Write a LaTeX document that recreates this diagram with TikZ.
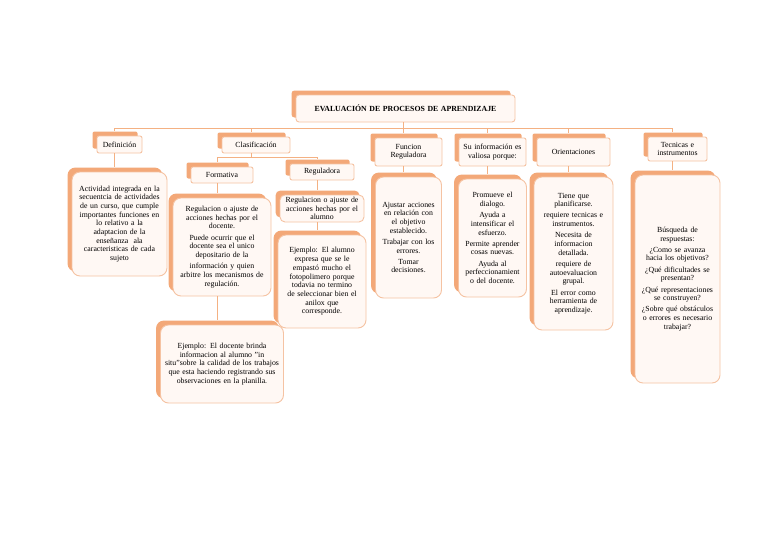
\documentclass[tikz,border=0pt]{standalone}
\usepackage{fontspec}
\setmainfont{Liberation Serif}
\usetikzlibrary{shadows}
\definecolor{shad}{HTML}{F3A878}
\definecolor{bline}{HTML}{F5C3A3}
\definecolor{bfill}{HTML}{FFF8F4}
\definecolor{conn}{HTML}{F4B183}
\tikzset{
 base/.style={draw=bline, line width=0.9pt, fill=bfill, inner sep=0pt, align=center, text=black,
   copy shadow={shadow xshift=-4.5pt, shadow yshift=4.5pt, fill=shad, draw=none}},
 lvone/.style={base, rounded corners=2pt, font=\fontsize{7.8}{8.5}\selectfont},
 lvtwo/.style={base, rounded corners=8pt, font=\fontsize{7.8}{8.7}\selectfont},
 ttl/.style={base, rounded corners=3pt, font=\bfseries\fontsize{7.8}{9}\selectfont},
 sz/.style 2 args={minimum width=#1pt, minimum height=#2pt},
 link/.style={draw=conn, line width=0.8pt},
}
\begin{document}
\begin{tikzpicture}[x=1pt,y=-1pt]
\useasboundingbox[fill=white] (0,0) rectangle (768,543);
% level 0
\node[ttl, sz={219}{27}, text width=215pt] (title) at (405.5,108.5) {EVALUACIÓN DE PROCESOS DE APRENDIZAJE};
% level 1
\node[lvone, sz={45}{17}, text width=43pt] (defn) at (119.5,144.5) {Definición};
\node[lvone, sz={68}{16}, text width=64pt] (clas) at (256,145) {Clasificación};
\node[lvone, sz={67}{28}, text width=62pt] (func) at (408.5,152) {Funcion\\Reguladora};
\node[lvone, sz={67}{28}, text width=65pt] (info) at (492.5,152) {Su información es\\valiosa porque:};
\node[lvone, sz={73}{28}, text width=68pt] (orie) at (573.5,152) {Orientaciones};
\node[lvone, sz={59}{24}, text width=56pt] (tec) at (677.5,149) {Tecnicas e\\instrumentos};
\node[lvone, sz={62}{16}, text width=58pt] (form) at (222,175) {Formativa};
\node[lvone, sz={64}{16}, text width=60pt] (regu) at (322,172) {Reguladora};
% level 2
\node[lvtwo, sz={95}{104}, text width=91pt] (defc) at (119.5,224) {Actividad integrada en la\\secuentcia de actividades\\de un curso, que cumple\\importantes funciones en\\lo relativo a la\\adaptacion de la\\enseñanza\ \ ala\\caracteristicas de cada\\sujeto};
\node[lvtwo, sz={98}{98}, text width=96pt] (formc) at (222,247) {Regulacion o ajuste de\\acciones hechas por el\\docente.\\[2.5pt]Puede ocurrir que el\\docente sea el unico\\depositario de la\\[2.5pt]información y quien\\arbitre los mecanismos de\\regulación.};
\node[lvtwo, sz={123}{78}, text width=120pt] (ejdoc) at (222,364) {Ejemplo: El docente brinda\\informacion al alumno "in\\situ"sobre la calidad de los trabajos\\que esta haciendo registrando sus\\observaciones en la planilla.};
\node[lvtwo, rounded corners=5pt, sz={84}{27}, text width=83pt] (regc1) at (322,208.5) {Regulacion o ajuste de\\acciones hechas por el\\alumno};
\node[lvtwo, sz={88}{93}, text width=85pt] (regc2) at (322,281.5) {Ejemplo: El alumno\\expresa que se le\\empastó mucho el\\fotopolimero porque\\todavia no termino\\de seleccionar bien el\\anilox que\\corresponde.};
\node[lvtwo, sz={66}{121}, text width=64pt] (funcc) at (408.5,237.5) {Ajustar acciones\\en relación con\\el objetivo\\establecido.\\[2.5pt]Trabajar con los\\errores.\\[2.5pt]Tomar\\decisiones.};
\node[lvtwo, sz={68}{118}, text width=66pt] (infoc) at (492.5,238) {Promueve el\\dialogo.\\[2.5pt]Ayuda a\\intensificar el\\esfuerzo.\\[2.5pt]Permite aprender\\cosas nuevas.\\[2.5pt]Ayuda al\\perfeccionamient\\o del docente.};
\node[lvtwo, sz={79}{153}, text width=76pt] (oriec) at (573.5,253.5) {Tiene que\\planificarse.\\[2.5pt]requiere tecnicas e\\instrumentos.\\[2.5pt]Necesita de\\informacion\\detallada.\\[2.5pt]requiere de\\autoevaluacion\\grupal.\\[2.5pt]El error como\\herramienta de\\aprendizaje.};
\node[lvtwo, sz={85}{208}, text width=82pt] (tecc) at (677.5,279) {Búsqueda de\\respuestas:\\[2.5pt]¿Como se avanza\\hacia los objetivos?\\[2.5pt]¿Qué dificultades se\\presentan?\\[2.5pt]¿Qué representaciones\\se construyen?\\[2.5pt]¿Sobre qué obstáculos\\o errores es necesario\\trabajar?};
% connector anchor points
\coordinate (bus) at (403,128);
\coordinate (sbus) at (251,157);
\coordinate (title-b) at ([xshift=-2.5pt]title.south);
\foreach \n in {defn,clas,func,info,orie,tec,form,regu,defc,formc,ejdoc,regc1,regc2,funcc,infoc,oriec,tecc}{
  \coordinate (\n-t) at ([xshift=-5pt,yshift=4.5pt]\n.north);
  \coordinate (\n-b) at ([xshift=-5pt]\n.south);
}
% connectors
\draw[link] (title-b) -- (title-b |- bus);
\draw[link] (defn-t |- bus) -- (tec-t |- bus);
\foreach \n in {defn,clas,func,info,orie,tec}{
  \draw[link] (\n-t |- bus) -- (\n-t);
}
\draw[link] (clas-b) -- (clas-b |- sbus);
\draw[link] (form-t |- sbus) -- (regu-t |- sbus);
\draw[link] (form-t |- sbus) -- (form-t);
\draw[link] (regu-t |- sbus) -- (regu-t);
\draw[link] (defn-b) -- (defc-t);
\draw[link] (form-b) -- (formc-t);
\draw[link] (formc-b) -- (ejdoc-t);
\draw[link] (regu-b) -- (regc1-t);
\draw[link] (regc1-b) -- (regc2-t);
\draw[link] (func-b) -- (funcc-t);
\draw[link] (info-b) -- (infoc-t);
\draw[link] (orie-b) -- (oriec-t);
\draw[link] (tec-b) -- (tecc-t);
\end{tikzpicture}
\end{document}
